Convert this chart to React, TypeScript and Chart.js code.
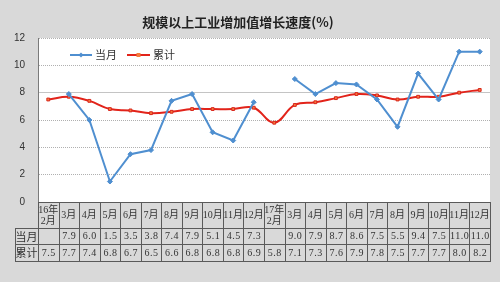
import React, { useEffect, useRef } from "react";
import { Chart, registerables } from "chart.js";
Chart.register(...registerables);

const categories = [
  "16年\n2月", "3月", "4月", "5月", "6月", "7月", "8月", "9月", "10月", "11月", "12月",
  "17年\n2月", "3月", "4月", "5月", "6月", "7月", "8月", "9月", "10月", "11月", "12月",
];
const monthly: (number | null)[] = [
  null, 7.9, 6.0, 1.5, 3.5, 3.8, 7.4, 7.9, 5.1, 4.5, 7.3,
  null, 9.0, 7.9, 8.7, 8.6, 7.5, 5.5, 9.4, 7.5, 11.0, 11.0,
];
const cumulative: number[] = [
  7.5, 7.7, 7.4, 6.8, 6.7, 6.5, 6.6, 6.8, 6.8, 6.8, 6.9,
  5.8, 7.1, 7.3, 7.6, 7.9, 7.8, 7.5, 7.7, 7.7, 8.0, 8.2,
];
const seriesNames = ["当月", "累计"];
const title = "规模以上工业增加值增长速度(%)";
const yMin = 0;
const yMax = 12;
const yStep = 2;

const BG = "#d9d9d9";
const BLUE = "#4f8fd0";
const RED = "#e2231a";

const decor = {
  id: "decor",
  beforeDraw(chart: any) {
    const { ctx, chartArea } = chart;
    ctx.save();
    ctx.fillStyle = BG;
    ctx.fillRect(0, 0, chart.width, chart.height);
    ctx.fillStyle = "#ffffff";
    ctx.fillRect(chartArea.left, chartArea.top, chartArea.right - chartArea.left, chartArea.bottom - chartArea.top);
    ctx.restore();
  },
  afterDraw(chart: any) {
    const { ctx, chartArea } = chart;
    const x = chart.scales.x;
    ctx.save();
    // title
    ctx.fillStyle = "#222";
    ctx.font = "bold 13px 'Noto Sans CJK SC'";
    ctx.textAlign = "center";
    ctx.textBaseline = "middle";
    ctx.fillText(title, 238, 22);

    // legend
    ctx.font = "11px 'Noto Sans CJK SC'";
    ctx.textAlign = "left";
    const ly = 55;
    ctx.lineWidth = 2;
    ctx.strokeStyle = BLUE;
    ctx.beginPath(); ctx.moveTo(70, ly); ctx.lineTo(92, ly); ctx.stroke();
    ctx.fillStyle = BLUE;
    ctx.beginPath();
    ctx.moveTo(81, ly - 2.5); ctx.lineTo(83.5, ly); ctx.lineTo(81, ly + 2.5); ctx.lineTo(78.5, ly); ctx.closePath(); ctx.fill();
    ctx.fillStyle = "#333";
    ctx.fillText(seriesNames[0], 95, ly);
    ctx.strokeStyle = RED;
    ctx.beginPath(); ctx.moveTo(127, ly); ctx.lineTo(150, ly); ctx.stroke();
    ctx.fillStyle = "#f47c3c";
    ctx.fillRect(136.5, ly - 2, 4, 4);
    ctx.fillStyle = "#333";
    ctx.fillText(seriesNames[1], 153, ly);

    // table
    const n = categories.length;
    const w = (chartArea.right - chartArea.left) / n;
    const top = chartArea.bottom;
    const r1 = 228, r2 = 244, r3 = 261;
    const leftLab = 15;
    ctx.strokeStyle = "#5a5a5a";
    ctx.lineWidth = 1;
    ctx.beginPath();
    for (let i = 0; i <= n; i++) {
      const xx = Math.round(chartArea.left + i * w) + 0.5;
      ctx.moveTo(xx, top); ctx.lineTo(xx, r3);
    }
    ctx.moveTo(leftLab + 0.5, r1); ctx.lineTo(leftLab + 0.5, r3);
    ctx.moveTo(chartArea.left, top + 0.5); ctx.lineTo(chartArea.right, top + 0.5);
    [r1, r2, r3].forEach((yy) => { ctx.moveTo(leftLab, yy + 0.5); ctx.lineTo(chartArea.right + 1, yy + 0.5); });
    ctx.stroke();

    ctx.fillStyle = "#333";
    ctx.textAlign = "center";
    ctx.font = "10px 'Liberation Serif', 'Noto Sans CJK SC'";
    for (let i = 0; i < n; i++) {
      const cx = x.getPixelForValue(i);
      const lines = categories[i].split("\n");
      if (lines.length === 2) {
        ctx.fillText(lines[0], cx, 210);
        ctx.fillText(lines[1], cx, 221);
      } else {
        ctx.fillText(lines[0], cx, 215.5);
      }
      const m = monthly[i];
      (ctx as any).letterSpacing = "0.5px";
      if (m !== null) ctx.fillText(m.toFixed(1), cx + 0.5, 236.5);
      ctx.fillText(cumulative[i].toFixed(1), cx + 0.5, 253);
      (ctx as any).letterSpacing = "0px";
    }
    ctx.font = "11px 'Noto Sans CJK SC'";
    ctx.fillText(seriesNames[0], (leftLab + chartArea.left) / 2, 236.5);
    ctx.fillText(seriesNames[1], (leftLab + chartArea.left) / 2, 253);
    ctx.restore();
  },
};

export default function App() {
  const ref = useRef<HTMLCanvasElement | null>(null);
  useEffect(() => {
    if (!ref.current) return;
    const chart = new Chart(ref.current, {
      type: "line",
      data: {
        labels: categories,
        datasets: [
          {
            label: seriesNames[0],
            data: monthly,
            borderColor: BLUE,
            backgroundColor: BLUE,
            borderWidth: 2,
            pointStyle: "rectRot",
            pointRadius: 2.5,
            pointBackgroundColor: BLUE,
            pointBorderColor: BLUE,
            pointBorderWidth: 1,
            tension: 0,
            spanGaps: false,
          },
          {
            label: seriesNames[1],
            data: cumulative,
            borderColor: RED,
            backgroundColor: RED,
            borderWidth: 2,
            pointStyle: "rect",
            pointRadius: 2,
            pointBackgroundColor: "#f47c3c",
            pointBorderColor: "#d9261c",
            pointBorderWidth: 1,
            tension: 0.4,
          },
        ],
      },
      options: {
        responsive: false,
        animation: false,
        layout: { padding: { top: 38, bottom: 80, left: 0, right: 10 } },
        plugins: { legend: { display: false }, title: { display: false }, tooltip: { enabled: false } },
        scales: {
          x: {
            type: "category",
            offset: true,
            ticks: { display: false },
            grid: { display: false },
            border: { display: false },
            afterFit: (s: any) => { s.height = 0; },
          },
          y: {
            min: yMin,
            max: yMax,
            ticks: {
              stepSize: yStep,
              padding: 13,
              color: "#333",
              font: { family: "'Liberation Sans'", size: 10 },
            },
            grid: {
              drawTicks: false,
              color: (c: any) => (c.tick && c.tick.value === 0 ? "rgba(0,0,0,0)" : c.tick && c.tick.value === 8 ? "#c4c4c4" : "#b0b0b0"),
              lineWidth: 1,
            },
            border: {
              display: true,
              color: "#7a7a7a",
              dash: (c: any) => (c.tick && c.tick.value !== 8 ? [1, 1] : []),
            },
            afterFit: (s: any) => { s.width = 38; },
          },
        },
      },
      plugins: [decor],
    });
    return () => chart.destroy();
  }, []);
  return (
    <div style={{ position: "absolute", left: 0, top: 0, width: 500, height: 282 }}>
      <canvas ref={ref} width={500} height={282} style={{ width: 500, height: 282 }} />
    </div>
  );
}
